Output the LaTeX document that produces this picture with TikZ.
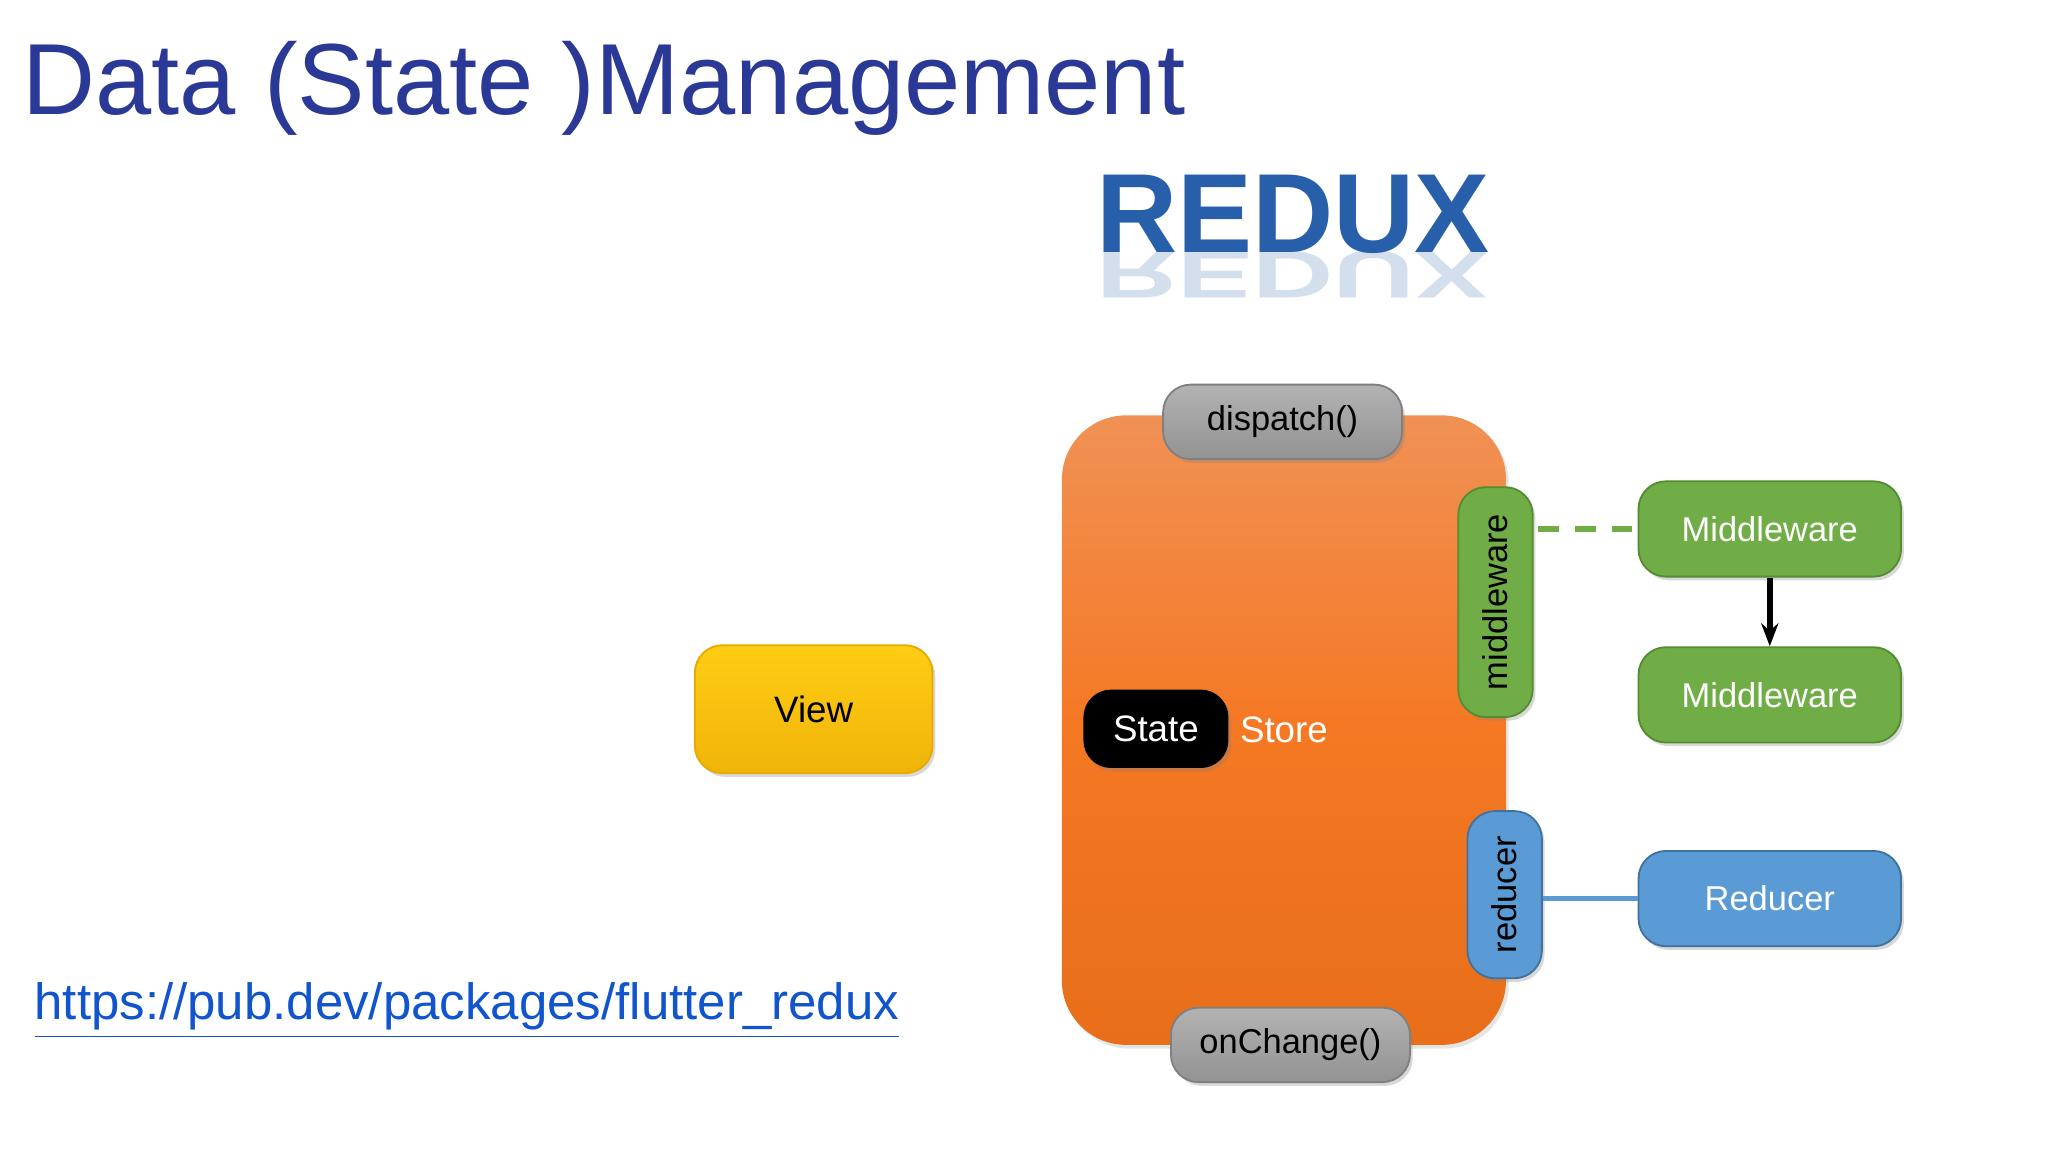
\documentclass[tikz,border=0pt]{standalone}
\usepackage{fontspec}
\setmainfont{Liberation Sans}
\usetikzlibrary{shadows,arrows.meta}
\definecolor{titleblue}{RGB}{42,56,150}
\definecolor{mwgreen}{RGB}{112,173,71}
\definecolor{mwedge}{RGB}{84,140,50}
\definecolor{rblue}{RGB}{91,155,213}
\definecolor{redge}{RGB}{65,113,156}
\tikzset{
 box/.style={rounded corners=6pt, minimum width=#1, align=center, font=\fontsize{7.5}{9}\selectfont, drop shadow={opacity=0.3, shadow xshift=0.6pt, shadow yshift=-0.8pt}},
 gbox/.style={box=201*0.01cm, minimum height=73*0.01cm, fill=mwgreen, draw=mwedge, text=white},
 gray/.style={box=183*0.01cm, minimum height=57*0.01cm, top color=gray!60, bottom color=gray!85, draw=gray, text=black},
}
\begin{document}
\begin{tikzpicture}[x=0.01cm,y=-0.01cm]
\useasboundingbox[fill=white] (0,0) rectangle (1568,882);
\node[anchor=west, text=titleblue, font=\fontsize{22}{26}\selectfont] (title) at (5,68) {Data (State )Management};
% REDUX
\node[font=\fontsize{24.5}{28}\bfseries\selectfont, text={rgb,255:red,60;green,110;blue,180}, opacity=0.22, yscale=-0.6] (reflect) at (990,210) {REDUX};
\node[font=\fontsize{24.5}{28}\bfseries\selectfont, text={rgb,255:red,40;green,95;blue,170}] (redux) at (990,164) {REDUX};
% store
\node[rounded corners=14pt, minimum width=340*0.01cm, minimum height=482*0.01cm, top color={rgb,255:red,240;green,145;blue,85}, bottom color={rgb,255:red,232;green,110;blue,25}, middle color={rgb,255:red,245;green,120;blue,35}, drop shadow={opacity=0.2, shadow xshift=0.6pt, shadow yshift=-0.8pt}] (store) at (983,559) {};
\node[gray] (dispatch) at (982,323) {dispatch()};
\node[gray] (onchange) at (988,800) {onChange()};
\node[box=111*0.01cm, minimum height=60*0.01cm, fill=black, text=white, font=\fontsize{8}{9}\selectfont] (state) at (885,558) {State};
\node[text=white, font=\fontsize{8}{9}\selectfont] (storet) at (983,559) {Store};
\node[box=176*0.01cm, minimum height=57*0.01cm, fill=mwgreen, draw=mwedge, text=black, rotate=90] (mw) at (1145,461) {middleware};
\node[box=128*0.01cm, minimum height=57*0.01cm, fill=rblue, draw=redge, text=black, rotate=90] (red) at (1152,685) {reducer};
\node[box=182*0.01cm, minimum height=98*0.01cm, top color={rgb,255:red,255;green,205;blue,20}, bottom color={rgb,255:red,240;green,180;blue,10}, draw={rgb,255:red,230;green,170;blue,0}, text=black, font=\fontsize{8}{9}\selectfont] (view) at (623,543) {View};
\node[gbox] (mw1) at (1355,405) {Middleware};
\node[gbox] (mw2) at (1355,532) {Middleware};
\node[box=201*0.01cm, minimum height=73*0.01cm, fill=rblue, draw=redge, text=white] (reducer) at (1355,688) {Reducer};
\draw[mwgreen, line width=1.3pt, dash pattern=on 4.5pt off 3.5pt, dash phase=-1pt] (mw.south |- mw1.west) -- (mw1.west);
\draw[line width=1.3pt, -{Stealth[length=5pt]}] (mw1) -- (mw2);
\draw[rblue, line width=1.2pt] (red.south |- reducer.west) -- (reducer.west);
\node[anchor=west, text={rgb,255:red,17;green,85;blue,204}, font=\fontsize{11.1}{12}\selectfont] (url) at (14,774) {\underline{https://pub.dev/packages/flutter\_redux}};
\end{tikzpicture}
\end{document}
